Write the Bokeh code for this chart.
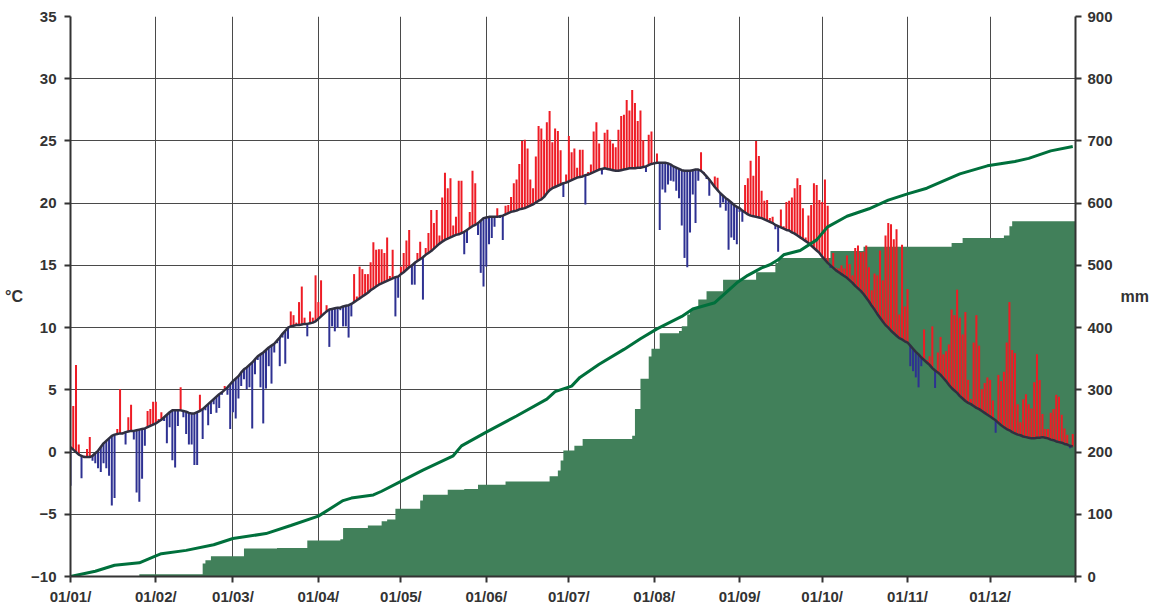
import numpy as np
from bokeh.plotting import figure
from bokeh.models import Range1d, LinearAxis, FixedTicker
from bokeh.embed import file_html
from bokeh.resources import INLINE

# ---------------- data ----------------
month_labels = ["01/01/", "01/02/", "01/03/", "01/04/", "01/05/", "01/06/",
                "01/07/", "01/08/", "01/09/", "01/10/", "01/11/", "01/12/"]
month_start = [0, 31, 59, 90, 120, 151, 181, 212, 243, 273, 304, 334]

# daily normal temperature (°C)
norm_jan = [0.4,0.2,0.0,-0.2,-0.3,-0.4,-0.4,-0.4,-0.3,-0.1,0.1,0.4,0.7,0.9,1.1,1.3,1.4,1.45,1.5,1.5,1.6,1.65,1.7,1.7,1.75,1.8,1.85,1.9,2.0,2.1,2.2]
norm_feb = [2.3,2.45,2.6,2.8,3.0,3.2,3.35,3.35,3.35,3.35,3.3,3.25,3.15,3.1,3.1,3.2,3.3,3.45,3.65,3.85,4.05,4.25,4.45,4.65,4.8,5.0,5.2,5.45]
norm_mar = [5.7,5.9,6.1,6.4,6.65,6.8,7.0,7.2,7.45,7.7,7.85,8.0,8.2,8.4,8.55,8.7,8.95,9.2,9.5,9.75,10.0,10.1,10.15,10.2,10.2,10.25,10.3,10.3,10.35,10.4,10.5]
norm_apr = [10.7,10.9,11.1,11.3,11.45,11.5,11.55,11.6,11.6,11.7,11.75,11.8,11.9,12.05,12.2,12.35,12.5,12.65,12.8,13.0,13.15,13.3,13.45,13.55,13.65,13.75,13.85,13.95,14.05,14.1]
norm_may = [14.3,14.45,14.65,14.85,15.0,15.2,15.35,15.5,15.65,15.85,16.0,16.15,16.35,16.55,16.75,16.9,17.05,17.15,17.25,17.35,17.45,17.5,17.6,17.7,17.85,18.0,18.15,18.25,18.4,18.6,18.8]
norm_jun = [18.85,18.9,18.9,18.9,18.9,18.95,19.0,19.1,19.2,19.3,19.35,19.4,19.5,19.55,19.6,19.7,19.8,19.9,20.05,20.2,20.3,20.5,20.8,21.05,21.2,21.3,21.4,21.5,21.6,21.65]
norm_jul = [21.75,21.85,21.95,22.05,22.1,22.15,22.25,22.3,22.4,22.5,22.6,22.7,22.75,22.8,22.75,22.7,22.65,22.6,22.6,22.65,22.7,22.75,22.8,22.8,22.8,22.85,22.85,22.9,22.95,23.05,23.15]
norm_aug = [23.2,23.25,23.25,23.25,23.25,23.2,23.1,22.95,22.85,22.75,22.65,22.6,22.6,22.6,22.65,22.7,22.7,22.6,22.4,22.15,21.9,21.6,21.3,21.05,20.8,20.6,20.4,20.25,20.05,19.85,19.7]
norm_sep = [19.6,19.4,19.25,19.1,19.0,18.95,18.9,18.85,18.8,18.7,18.6,18.5,18.4,18.25,18.15,18.05,17.95,17.85,17.8,17.65,17.55,17.4,17.25,17.1,16.95,16.8,16.6,16.4,16.2,16.0]
norm_oct = [15.7,15.45,15.2,15.0,14.8,14.6,14.45,14.3,14.15,14.0,13.8,13.6,13.35,13.15,12.95,12.7,12.4,12.1,11.75,11.45,11.1,10.8,10.5,10.2,10.0,9.75,9.55,9.35,9.15,9.05,8.9]
norm_nov = [8.8,8.55,8.3,8.05,7.85,7.6,7.4,7.2,7.0,6.75,6.55,6.4,6.2,5.95,5.7,5.4,5.15,4.95,4.75,4.5,4.3,4.1,3.95,3.85,3.7,3.55,3.45,3.3,3.15,3.0]
norm_dec = [2.85,2.7,2.55,2.35,2.15,2.0,1.85,1.75,1.6,1.5,1.4,1.35,1.25,1.2,1.15,1.1,1.1,1.15,1.15,1.2,1.15,1.1,1.0,0.95,0.85,0.8,0.75,0.65,0.6,0.5,0.45]

# daily departure of the observed mean temperature from the normal (°C)
anom_jan = [-3.1,3.5,7.0,0.8,-1.8,0.1,0.65,1.6,-0.4,-0.8,-1.4,-2.0,-1.6,-2.2,-3.0,-5.6,-5.1,0.4,3.55,0.1,-1.0,1.15,2.1,-0.7,-5.0,-5.8,-4.0,-1.4,1.3,1.35,1.85]
anom_feb = [1.75,0.2,0.6,-0.3,-2.3,-1.2,-4.0,-4.6,-1.25,1.85,-0.5,-1.8,-2.55,-2.5,-4.15,-4.25,1.3,-2.4,-0.3,-1.7,-1.0,-0.4,-1.3,-1.1,-0.2,0.3,-0.6,-3.6]
anom_mar = [-2.5,-3.2,-1.8,-1.1,-0.8,-1.75,-1.8,-5.3,-1.2,-0.3,-2.65,-5.7,-3.1,-1.5,-3.05,-0.7,-0.2,-2.3,-0.3,-2.65,-0.9,1.2,0.85,0.2,1.85,3.05,0.5,-1.0,0.95,0.4,3.7]
anom_apr = [1.35,2.9,0.1,0.5,-3.0,-1.4,-1.85,-1.6,-0.2,-1.6,-1.65,-2.6,-1.0,2.25,0.3,2.55,2.2,1.65,1.5,2.25,3.7,2.95,2.85,2.75,2.35,3.5,0.3,2.3,-3.15,-1.7]
anom_may = [0.6,1.55,2.35,3.0,-1.55,-1.75,0.65,1.4,-3.4,0.55,1.6,3.3,2.05,2.9,0.65,3.55,5.4,4.05,4.75,0.85,1.45,4.3,4.2,-1.8,-1.05,1.3,4.45,3.35,-0.95,-4.2,-5.5]
anom_jun = [-3.95,-2.2,-1.7,-0.8,0.7,-0.15,-1.95,0.7,0.65,1.2,2.25,2.5,3.65,5.45,5.5,4.7,2.1,1.3,3.7,6.0,5.7,4.6,5.7,6.35,3.7,4.7,4.4,2.75,-1.1,0.65]
anom_jul = [3.65,2.25,2.45,0.8,2.2,2.15,-2.35,0.2,0.7,3.25,3.9,2.1,-0.45,2.85,3.15,2.4,2.15,1.9,3.3,4.35,4.4,5.55,4.65,6.3,5.25,3.75,4.6,2.15,-0.45,2.45,2.6]
anom_aug = [0.1,0.75,-5.4,-2.15,-2.4,-1.7,-1.3,-1.2,-1.85,-2.35,-4.45,-7.0,-7.75,-4.95,-1.95,-4.3,-0.9,1.5,0.1,-0.2,-1.3,0.1,0.85,1.0,-1.15,-0.55,-1.0,-4.0,-2.8,-2.8,-3.0]
anom_sep = [-0.3,-0.9,2.2,2.9,4.4,3.25,6.1,4.95,2.2,1.5,1.65,0.3,0.5,-0.35,-2.05,1.45,0.2,2.25,2.4,2.8,3.65,4.6,4.2,2.5,0.3,2.2,3.25,5.2,5.25,4.25]
anom_oct = [4.4,6.45,4.6,-0.2,1.2,0.2,0.3,0.7,0.6,1.8,1.3,0.6,3.05,3.45,3.1,3.4,4.2,2.75,1.25,2.9,3.1,5.4,3.3,7.2,8.4,8.55,7.55,8.55,1.9,7.6,2.8]
anom_nov = [4.3,-1.65,-1.8,-2.05,-2.65,-0.7,2.45,0.2,0.7,3.35,-1.4,1.6,3.05,1.9,2.4,3.25,6.3,6.05,8.3,6.3,5.15,7.15,1.85,0.4,5.1,7.45,5.1,1.75,2.4,3.0]
anom_dec = [2.95,1.45,-1.0,3.85,3.55,4.45,6.95,10.3,6.6,6.45,2.45,1.05,3.0,3.45,2.7,2.4,4.5,6.7,4.65,1.85,0.7,0.75,2.15,2.5,3.75,3.65,2.25,1.25,0.8,-0.2,1.0]

# cumulative precipitation of the year (mm): day of year of each rise, total after it
precip_day = [25,48,49,51,63,75,86,98,99,108,113,115,118,127,128,137,143,148,158,174,177,178,179,183,186,204,205,207,210,211,214,221,222,224,225,228,231,237,249,256,257,276,288,320,324,339,341,342]
precip_cum = [3.5,21,26,32.5,44.8,46,58,60,78,82,88.6,91.8,109,122,131.3,139.3,140.5,147.3,152.7,161.3,170.3,186.3,202.3,210.3,221,226.3,269,318,353.4,366,390.8,394.5,402,421,430,445,458.5,477,489,504,512,523,530,536,544,548,563,571]

# normal cumulative precipitation (mm)
ncum_day = [0,9,16,25,31,33,42,52,59,71,80,90,99,102,110,113,120,128,139,142,151,162,173,176,182,185,192,201,207,213,222,226,234,242,246,251,254,257,259,265,271,275,282,290,297,304,311,323,333,343,348,356,364]
ncum_mm = [0,8.5,18,22,33,36.6,42,51,61,69,82,97,122,126,131,137,153,171,194,210,232,258,285,297,306,320,341,365,382,398,418,430,440,472,484,496,501,509,517,524,541,562,579,591,605,615,624,647,660,667,672,684,691]

# ---------------- build ----------------
normal = np.array(norm_jan + norm_feb + norm_mar + norm_apr + norm_may + norm_jun +
                  norm_jul + norm_aug + norm_sep + norm_oct + norm_nov + norm_dec)
anomaly = np.array(anom_jan + anom_feb + anom_mar + anom_apr + anom_may + anom_jun +
                   anom_jul + anom_aug + anom_sep + anom_oct + anom_nov + anom_dec)
days = np.arange(len(normal))
actual = normal + anomaly

FONT = "Liberation Sans"
TXT = "#333333"

p = figure(width=1151, height=607, output_backend="svg", toolbar_location=None,
           x_range=Range1d(0, 365), y_range=Range1d(-10, 35),
           min_border_left=70, min_border_right=76, min_border_top=16, min_border_bottom=29)
p.extra_y_ranges = {"mm": Range1d(0, 900)}
p.outline_line_color = None
p.background_fill_color = "white"

# cumulative precipitation step area
xs, ys = [0], [0.0]
prev = 0.0
for d, c in zip(precip_day, precip_cum):
    xs += [d, d]
    ys += [prev, c]
    prev = c
xs.append(365)
ys.append(prev)
p.varea(x=xs, y1=[0] * len(xs), y2=ys, y_range_name="mm", fill_color="#41805A")

# temperature departures
up = anomaly >= 0
p.segment(x0=days[up], y0=normal[up], x1=days[up], y1=actual[up],
          line_color="#EE1C25", line_width=2)
p.segment(x0=days[~up], y0=normal[~up], x1=days[~up], y1=actual[~up],
          line_color="#2E3192", line_width=2)
p.line(days, normal, line_color="#303040", line_width=2.5)

# normal cumulative precipitation
p.line(ncum_day, ncum_mm, y_range_name="mm", line_color="#00703C", line_width=3)

# axes
right = LinearAxis(y_range_name="mm")
p.add_layout(right, "right")

p.xaxis.ticker = FixedTicker(ticks=month_start + [365])
p.xaxis.major_label_overrides = {**{m: l for m, l in zip(month_start, month_labels)}, 365: ""}
p.yaxis[0].ticker = FixedTicker(ticks=list(range(-10, 36, 5)))
right.ticker = FixedTicker(ticks=list(range(0, 901, 100)))

p.xgrid.ticker = FixedTicker(ticks=month_start[1:])
p.ygrid.ticker = FixedTicker(ticks=list(range(-5, 36, 5)))
p.grid.grid_line_color = "#4a4a4a"
p.grid.grid_line_width = 1

for ax in [p.xaxis[0], p.yaxis[0], right]:
    ax.axis_line_color = "#333333"
    ax.axis_line_width = 2
    ax.major_tick_line_color = "#333333"
    ax.major_tick_line_width = 2
    ax.major_tick_in = 0
    ax.major_tick_out = 6
    ax.minor_tick_line_color = None
    ax.major_label_text_font = FONT
    ax.major_label_text_font_style = "bold"
    ax.major_label_text_color = TXT
    ax.major_label_text_font_size = "15px"
    ax.axis_label_text_font = FONT
    ax.axis_label_text_font_style = "bold"
    ax.axis_label_text_color = TXT
    ax.axis_label_text_font_size = "16px"

p.xaxis.major_label_standoff = 5
p.yaxis[0].major_label_standoff = 8
right.major_label_standoff = 6

p.yaxis[0].axis_label = "°C"
right.axis_label = "mm"
p.yaxis[0].axis_label_orientation = "horizontal"
right.axis_label_orientation = "horizontal"
p.yaxis[0].axis_label_standoff = 5
right.axis_label_standoff = 5

open("out.html", "w").write(file_html(p, INLINE))
